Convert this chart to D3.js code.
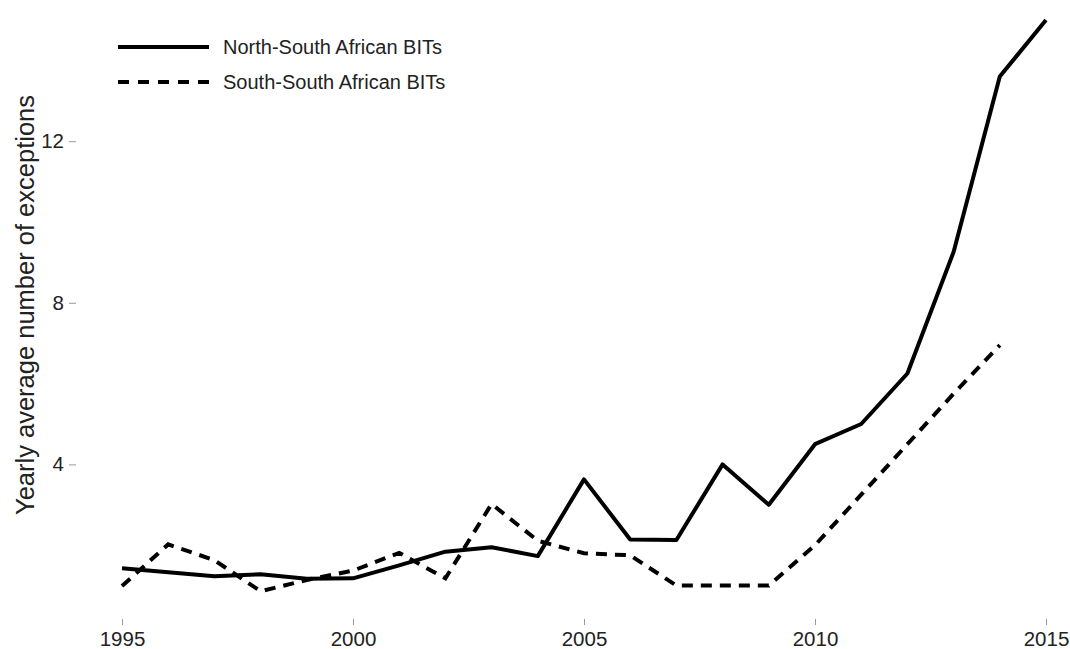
<!DOCTYPE html>
<html>
<head>
<meta charset="utf-8">
<script src="https://cdn.jsdelivr.net/npm/d3@7"></script>
<style>
  body { margin: 0; background: #fff; }
  svg text { font-family: "Liberation Sans", Arial, sans-serif; fill: #222; }
</style>
</head>
<body>
<script>
// data
var years = [1995, 1996, 1997, 1998, 1999, 2000, 2001, 2002, 2003, 2004, 2005,
             2006, 2007, 2008, 2009, 2010, 2011, 2012, 2013, 2014, 2015];
var northSouth = [1.43, 1.33, 1.23, 1.28, 1.17, 1.18, 1.5, 1.84, 1.95, 1.73, 3.63,
                  2.14, 2.13, 4.0, 3.0, 4.5, 5.0, 6.25, 9.26, 13.6, 15.0];
var southSouth = [0.99, 2.02, 1.63, 0.86, 1.14, 1.37, 1.81, 1.18, 3.02, 2.11, 1.8,
                  1.75, 1.0, 1.0, 1.0, 2.0, 3.25, 4.5, 5.75, 6.95, null];
var yTicks = [4, 8, 12];
var xTicks = [1995, 2000, 2005, 2010, 2015];
var seriesNames = ["North-South African BITs", "South-South African BITs"];

var w = 1070;
var h = 649;

var svg = d3.select("body")
  .append("svg")
  .attr("width", w)
  .attr("height", h);

var xScale = d3.scaleLinear()
  .domain([1995, 2015])
  .range([122, 1046]);

var yScale = d3.scaleLinear()
  .domain([0, 15])
  .range([626, 20]);

// x axis (no domain line, grey ticks)
var xAxis = svg.append("g")
  .attr("transform", "translate(0,619)")
  .call(d3.axisBottom(xScale).tickValues(xTicks).tickFormat(d3.format("d"))
        .tickSize(6).tickPadding(6));
xAxis.select(".domain").remove();
xAxis.selectAll("line").attr("stroke", "#999");
xAxis.selectAll("text").style("font-size", "20.5px").attr("fill", "#222");

// y axis
var yAxis = svg.append("g")
  .attr("transform", "translate(76,0)")
  .call(d3.axisLeft(yScale).tickValues(yTicks).tickSize(7).tickPadding(5));
yAxis.select(".domain").remove();
yAxis.selectAll("line").attr("stroke", "#999");
yAxis.selectAll("text").style("font-size", "20.5px").attr("fill", "#222");

svg.append("text")
  .attr("transform", "translate(34,305) rotate(-90)")
  .attr("text-anchor", "middle")
  .style("font-size", "25.5px")
  .text("Yearly average number of exceptions");

var line = d3.line()
  .defined(function(d) { return d != null; })
  .x(function(d, i) { return xScale(years[i]); })
  .y(function(d) { return yScale(d); });

svg.append("path")
  .datum(northSouth)
  .attr("d", line)
  .attr("fill", "none")
  .attr("stroke", "#000")
  .attr("stroke-width", 4)
  .attr("stroke-linejoin", "round");

svg.append("path")
  .datum(southSouth)
  .attr("d", line)
  .attr("fill", "none")
  .attr("stroke", "#000")
  .attr("stroke-width", 4)
  .attr("stroke-dasharray", "11,8");

// legend
var legend = svg.append("g");
seriesNames.forEach(function(name, i) {
  var ly = 47 + i * 35;
  legend.append("line")
    .attr("x1", 118).attr("x2", 209)
    .attr("y1", ly).attr("y2", ly)
    .attr("stroke", "#000")
    .attr("stroke-width", 4)
    .attr("stroke-dasharray", i == 0 ? null : "11,9");
  legend.append("text")
    .attr("x", 223).attr("y", ly)
    .attr("dy", "0.35em")
    .style("font-size", "20px")
    .text(name);
});
</script>
</body>
</html>
